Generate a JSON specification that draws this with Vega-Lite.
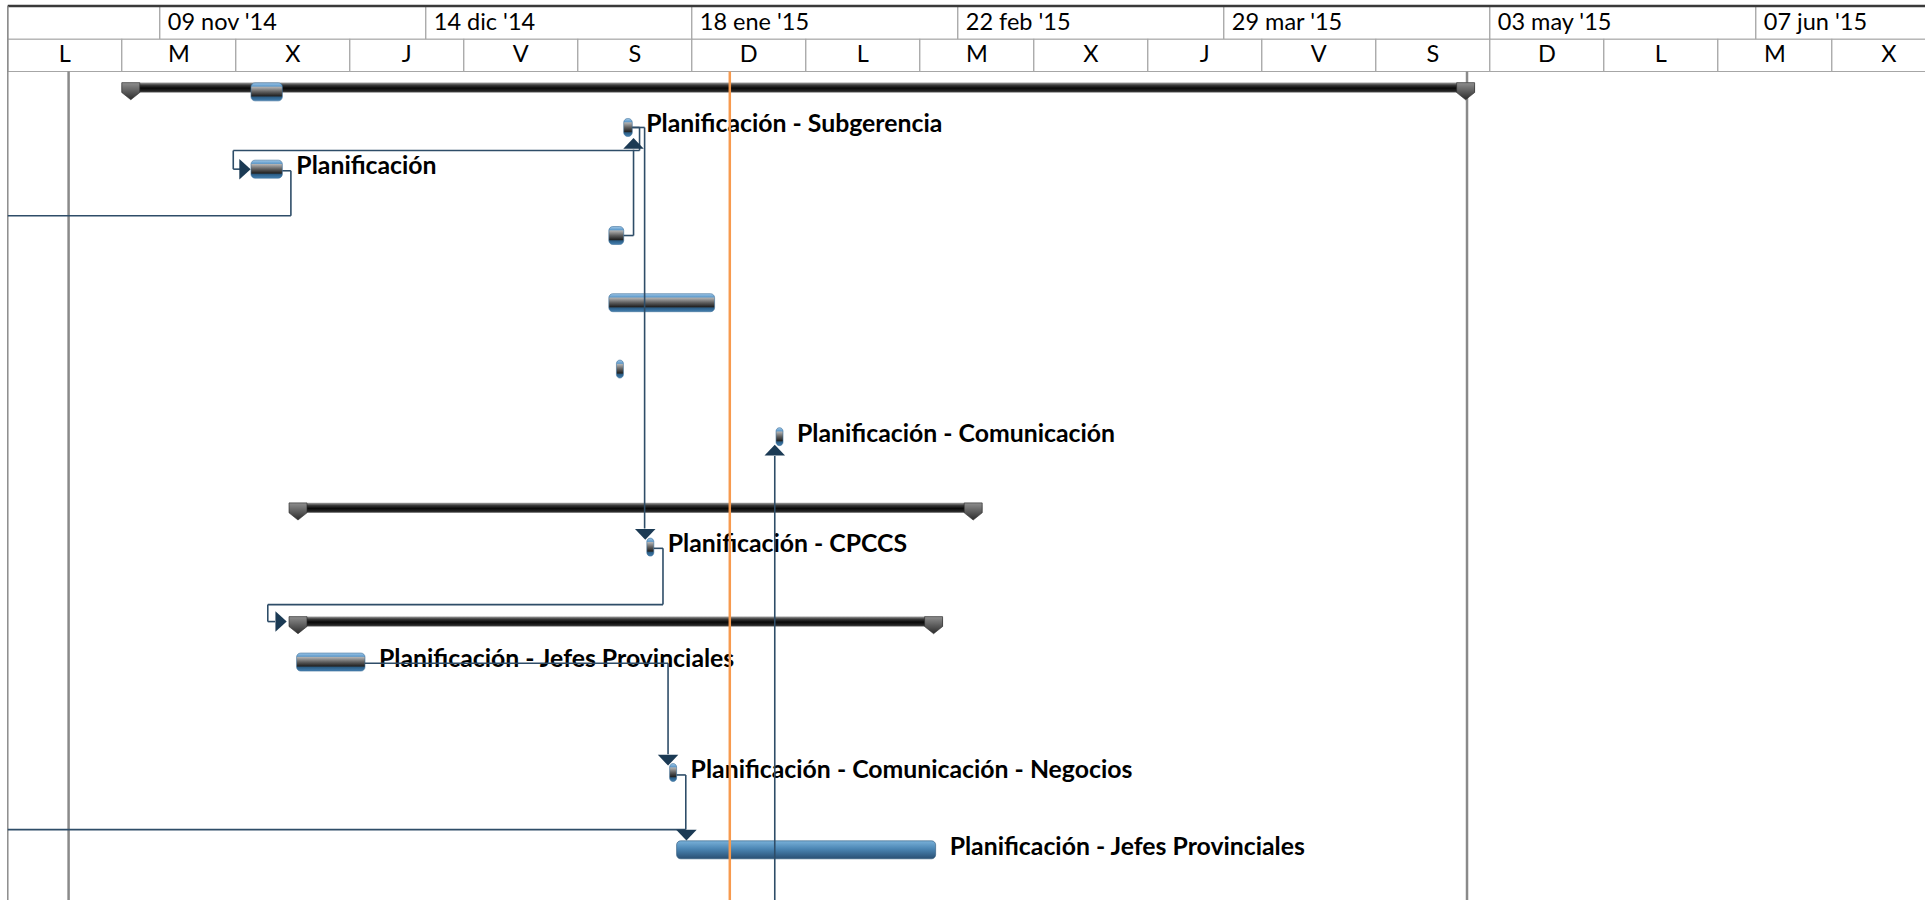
{
  "$schema": "https://vega.github.io/schema/vega-lite/v6.json",
  "width": 1927,
  "height": 902,
  "autosize": {"type": "fit", "contains": "padding"},
  "padding": 0,
  "background": "white",
  "config": {"view": {"stroke": null}, "text": {"font": "Lato"}},
  "datasets": {
    "nivel1": [
      {"inicio": "2014-10-20T00:00:00", "fin": "2014-11-09T00:00:00", "etiqueta": ""},
      {"inicio": "2014-11-09T00:00:00", "fin": "2014-12-14T00:00:00", "etiqueta": "09 nov '14"},
      {"inicio": "2014-12-14T00:00:00", "fin": "2015-01-18T00:00:00", "etiqueta": "14 dic '14"},
      {"inicio": "2015-01-18T00:00:00", "fin": "2015-02-22T00:00:00", "etiqueta": "18 ene '15"},
      {"inicio": "2015-02-22T00:00:00", "fin": "2015-03-29T00:00:00", "etiqueta": "22 feb '15"},
      {"inicio": "2015-03-29T00:00:00", "fin": "2015-05-03T00:00:00", "etiqueta": "29 mar '15"},
      {"inicio": "2015-05-03T00:00:00", "fin": "2015-06-07T00:00:00", "etiqueta": "03 may '15"},
      {"inicio": "2015-06-07T00:00:00", "fin": "2015-07-12T00:00:00", "etiqueta": "07 jun '15"}
    ],
    "nivel2": [
      {"inicio": "2014-10-20T00:00:00", "fin": "2014-11-04T00:00:00", "centro": "2014-10-27T12:00:00", "dia": "L"},
      {"inicio": "2014-11-04T00:00:00", "fin": "2014-11-19T00:00:00", "centro": "2014-11-11T12:00:00", "dia": "M"},
      {"inicio": "2014-11-19T00:00:00", "fin": "2014-12-04T00:00:00", "centro": "2014-11-26T12:00:00", "dia": "X"},
      {"inicio": "2014-12-04T00:00:00", "fin": "2014-12-19T00:00:00", "centro": "2014-12-11T12:00:00", "dia": "J"},
      {"inicio": "2014-12-19T00:00:00", "fin": "2015-01-03T00:00:00", "centro": "2014-12-26T12:00:00", "dia": "V"},
      {"inicio": "2015-01-03T00:00:00", "fin": "2015-01-18T00:00:00", "centro": "2015-01-10T12:00:00", "dia": "S"},
      {"inicio": "2015-01-18T00:00:00", "fin": "2015-02-02T00:00:00", "centro": "2015-01-25T12:00:00", "dia": "D"},
      {"inicio": "2015-02-02T00:00:00", "fin": "2015-02-17T00:00:00", "centro": "2015-02-09T12:00:00", "dia": "L"},
      {"inicio": "2015-02-17T00:00:00", "fin": "2015-03-04T00:00:00", "centro": "2015-02-24T12:00:00", "dia": "M"},
      {"inicio": "2015-03-04T00:00:00", "fin": "2015-03-19T00:00:00", "centro": "2015-03-11T12:00:00", "dia": "X"},
      {"inicio": "2015-03-19T00:00:00", "fin": "2015-04-03T00:00:00", "centro": "2015-03-26T12:00:00", "dia": "J"},
      {"inicio": "2015-04-03T00:00:00", "fin": "2015-04-18T00:00:00", "centro": "2015-04-10T12:00:00", "dia": "V"},
      {"inicio": "2015-04-18T00:00:00", "fin": "2015-05-03T00:00:00", "centro": "2015-04-25T12:00:00", "dia": "S"},
      {"inicio": "2015-05-03T00:00:00", "fin": "2015-05-18T00:00:00", "centro": "2015-05-10T12:00:00", "dia": "D"},
      {"inicio": "2015-05-18T00:00:00", "fin": "2015-06-02T00:00:00", "centro": "2015-05-25T12:00:00", "dia": "L"},
      {"inicio": "2015-06-02T00:00:00", "fin": "2015-06-17T00:00:00", "centro": "2015-06-09T12:00:00", "dia": "M"},
      {"inicio": "2015-06-17T00:00:00", "fin": "2015-07-02T00:00:00", "centro": "2015-06-24T12:00:00", "dia": "X"}
    ],
    "resumen": [
      {"fila": 2.165, "inicio": "2014-11-04T00:00:00", "fin": "2015-05-01T00:00:00"},
      {"fila": 12.55, "inicio": "2014-11-26T00:00:00", "fin": "2015-02-25T05:00:00"},
      {"fila": 15.36, "inicio": "2014-11-26T00:00:00", "fin": "2015-02-20T00:00:00"}
    ],
    "tareas": [
      {"fila": 2.27, "inicio": "2014-11-21T00:00:00", "fin": "2014-11-25T03:00:00", "nombre": "", "tipo": "normal"},
      {"fila": 3.15, "inicio": "2015-01-09T01:00:00", "fin": "2015-01-10T04:00:00", "nombre": "Planificación - Subgerencia", "tipo": "normal"},
      {"fila": 4.18, "inicio": "2014-11-21T00:00:00", "fin": "2014-11-25T03:00:00", "nombre": "Planificación", "tipo": "normal"},
      {"fila": 5.82, "inicio": "2015-01-07T02:00:00", "fin": "2015-01-09T01:00:00", "nombre": "", "tipo": "normal"},
      {"fila": 7.48, "inicio": "2015-01-07T02:00:00", "fin": "2015-01-21T00:00:00", "nombre": "", "tipo": "normal"},
      {"fila": 9.12, "inicio": "2015-01-08T02:00:00", "fin": "2015-01-09T00:00:00", "nombre": "", "tipo": "normal"},
      {"fila": 10.79, "inicio": "2015-01-29T02:00:00", "fin": "2015-01-30T00:00:00", "nombre": "Planificación - Comunicación", "tipo": "normal"},
      {"fila": 13.52, "inicio": "2015-01-12T02:00:00", "fin": "2015-01-13T00:00:00", "nombre": "Planificación - CPCCS", "tipo": "normal"},
      {"fila": 16.36, "inicio": "2014-11-27T00:00:00", "fin": "2014-12-06T00:00:00", "nombre": "Planificación - Jefes Provinciales", "tipo": "normal"},
      {"fila": 19.09, "inicio": "2015-01-15T02:00:00", "fin": "2015-01-16T00:00:00", "nombre": "Planificación - Comunicación - Negocios", "tipo": "normal"},
      {"fila": 21.0, "inicio": "2015-01-16T00:00:00", "fin": "2015-02-19T02:00:00", "nombre": "Planificación - Jefes Provinciales", "tipo": "azul"}
    ],
    "vinculos": [
      {"x1": "2014-11-25T03:00:00", "x2": "2014-11-26T06:00:00", "y1": 4.22, "y2": 4.22},
      {"x1": "2014-11-26T06:00:00", "x2": "2014-11-26T06:00:00", "y1": 4.22, "y2": 5.33},
      {"x1": "2014-11-26T06:00:00", "x2": "2014-10-20T00:00:00", "y1": 5.33, "y2": 5.33},
      {"x1": "2015-01-10T04:00:00", "x2": "2015-01-11T03:00:00", "y1": 3.15, "y2": 3.15},
      {"x1": "2015-01-11T03:00:00", "x2": "2015-01-11T03:00:00", "y1": 3.15, "y2": 3.72},
      {"x1": "2015-01-11T03:00:00", "x2": "2014-11-18T16:00:00", "y1": 3.72, "y2": 3.72},
      {"x1": "2014-11-18T16:00:00", "x2": "2014-11-18T16:00:00", "y1": 3.72, "y2": 4.18},
      {"x1": "2014-11-18T16:00:00", "x2": "2014-11-19T19:00:00", "y1": 4.18, "y2": 4.18},
      {"x1": "2015-01-09T01:00:00", "x2": "2015-01-10T08:00:00", "y1": 5.82, "y2": 5.82},
      {"x1": "2015-01-10T08:00:00", "x2": "2015-01-10T08:00:00", "y1": 5.82, "y2": 3.7},
      {"x1": "2015-01-10T04:00:00", "x2": "2015-01-11T19:00:00", "y1": 3.15, "y2": 3.15},
      {"x1": "2015-01-11T19:00:00", "x2": "2015-01-11T19:00:00", "y1": 3.15, "y2": 13.06},
      {"x1": "2015-01-13T00:00:00", "x2": "2015-01-14T05:00:00", "y1": 13.55, "y2": 13.55},
      {"x1": "2015-01-14T05:00:00", "x2": "2015-01-14T05:00:00", "y1": 13.55, "y2": 14.94},
      {"x1": "2015-01-14T05:00:00", "x2": "2014-11-23T05:00:00", "y1": 14.94, "y2": 14.94},
      {"x1": "2014-11-23T05:00:00", "x2": "2014-11-23T05:00:00", "y1": 14.94, "y2": 15.36},
      {"x1": "2014-11-23T05:00:00", "x2": "2014-11-24T04:00:00", "y1": 15.36, "y2": 15.36},
      {"x1": "2014-12-06T00:00:00", "x2": "2015-01-14T21:00:00", "y1": 16.39, "y2": 16.39},
      {"x1": "2015-01-14T21:00:00", "x2": "2015-01-14T21:00:00", "y1": 16.39, "y2": 18.64},
      {"x1": "2015-01-16T00:00:00", "x2": "2015-01-17T05:00:00", "y1": 19.15, "y2": 19.15},
      {"x1": "2015-01-17T05:00:00", "x2": "2015-01-17T05:00:00", "y1": 19.15, "y2": 20.5},
      {"x1": "2014-10-20T00:00:00", "x2": "2015-01-17T05:00:00", "y1": 20.5, "y2": 20.5},
      {"x1": "2015-01-28T22:00:00", "x2": "2015-01-28T22:00:00", "y1": 22.24, "y2": 11.27}
    ],
    "flechas": [
      {"fecha": "2014-11-20T05:00:00", "fila": 4.18, "dir": "derecha"},
      {"fecha": "2015-01-10T08:00:00", "fila": 3.55, "dir": "arriba"},
      {"fecha": "2015-01-11T21:00:00", "fila": 13.2, "dir": "abajo"},
      {"fecha": "2014-11-24T23:00:00", "fila": 15.36, "dir": "derecha"},
      {"fecha": "2015-01-14T21:00:00", "fila": 18.78, "dir": "abajo"},
      {"fecha": "2015-01-17T07:00:00", "fila": 20.63, "dir": "abajo"},
      {"fecha": "2015-01-28T22:00:00", "fila": 11.13, "dir": "arriba"}
    ],
    "lineas_grises": [
      {"fecha": "2014-10-28T00:00:00"},
      {"fecha": "2015-04-30T00:00:00"}
    ],
    "linea_hoy": [
      {"fecha": "2015-01-23T00:00:00"}
    ]
  },
  "layer": [
    {
      "data": {"name": "nivel1"},
      "mark": {"type": "rect", "fill": "white", "stroke": "#a6a6a6", "strokeWidth": 1.2, "clip": true},
      "encoding": {
        "x": {"field": "inicio", "type": "temporal", "scale": {"domain": [{"year": 2014, "month": 10, "date": 18, "hours": 23, "minutes": 24}, {"year": 2015, "month": 6, "date": 29, "hours": 6, "minutes": 15}]}, "axis": null},
        "x2": {"field": "fin"},
        "y": {"datum": 0.148, "type": "quantitative", "scale": {"domain": [0, 22.24], "reverse": true, "nice": false, "zero": false}, "axis": null},
        "y2": {"datum": 0.97}
      }
    },
    {
      "data": {"name": "nivel2"},
      "mark": {"type": "rect", "fill": "white", "stroke": "#a6a6a6", "strokeWidth": 1.2, "clip": true},
      "encoding": {
        "x": {"field": "inicio", "type": "temporal", "scale": {"domain": [{"year": 2014, "month": 10, "date": 18, "hours": 23, "minutes": 24}, {"year": 2015, "month": 6, "date": 29, "hours": 6, "minutes": 15}]}, "axis": null},
        "x2": {"field": "fin"},
        "y": {"datum": 0.97, "type": "quantitative", "scale": {"domain": [0, 22.24], "reverse": true, "nice": false, "zero": false}, "axis": null},
        "y2": {"datum": 1.767}
      }
    },
    {
      "data": {"name": "nivel1"},
      "mark": {"type": "text", "align": "left", "baseline": "middle", "dx": 8, "fontSize": 23.5, "color": "#000000", "clip": true},
      "encoding": {
        "x": {"field": "inicio", "type": "temporal", "scale": {"domain": [{"year": 2014, "month": 10, "date": 18, "hours": 23, "minutes": 24}, {"year": 2015, "month": 6, "date": 29, "hours": 6, "minutes": 15}]}, "axis": null},
        "y": {"datum": 0.57, "type": "quantitative", "scale": {"domain": [0, 22.24], "reverse": true, "nice": false, "zero": false}, "axis": null},
        "text": {"field": "etiqueta"}
      }
    },
    {
      "data": {"name": "nivel2"},
      "mark": {"type": "text", "align": "center", "baseline": "middle", "fontSize": 23.5, "color": "#000000", "clip": true},
      "encoding": {
        "x": {"field": "centro", "type": "temporal", "scale": {"domain": [{"year": 2014, "month": 10, "date": 18, "hours": 23, "minutes": 24}, {"year": 2015, "month": 6, "date": 29, "hours": 6, "minutes": 15}]}, "axis": null},
        "y": {"datum": 1.37, "type": "quantitative", "scale": {"domain": [0, 22.24], "reverse": true, "nice": false, "zero": false}, "axis": null},
        "text": {"field": "dia"}
      }
    },
    {
      "data": {"values": [{"a": 1}]},
      "mark": {"type": "rule", "color": "#3a3a3a", "strokeWidth": 2.5},
      "encoding": {
        "x": {"datum": {"year": 2014, "month": 10, "date": 20}, "type": "temporal", "scale": {"domain": [{"year": 2014, "month": 10, "date": 18, "hours": 23, "minutes": 24}, {"year": 2015, "month": 6, "date": 29, "hours": 6, "minutes": 15}]}, "axis": null},
        "x2": {"datum": {"year": 2015, "month": 6, "date": 29, "hours": 6, "minutes": 15}},
        "y": {"datum": 0.148, "type": "quantitative", "scale": {"domain": [0, 22.24], "reverse": true, "nice": false, "zero": false}, "axis": null}
      }
    },
    {
      "data": {"values": [{"a": 1}]},
      "mark": {"type": "rule", "color": "#8c8c8c", "strokeWidth": 1.5},
      "encoding": {
        "x": {"datum": {"year": 2014, "month": 10, "date": 20}, "type": "temporal", "scale": {"domain": [{"year": 2014, "month": 10, "date": 18, "hours": 23, "minutes": 24}, {"year": 2015, "month": 6, "date": 29, "hours": 6, "minutes": 15}]}, "axis": null},
        "y": {"datum": 0.148, "type": "quantitative", "scale": {"domain": [0, 22.24], "reverse": true, "nice": false, "zero": false}, "axis": null},
        "y2": {"datum": 22.24}
      }
    },
    {
      "data": {"name": "lineas_grises"},
      "mark": {"type": "rule", "color": "#8a8a8a", "strokeWidth": 2.5},
      "encoding": {
        "x": {"field": "fecha", "type": "temporal", "scale": {"domain": [{"year": 2014, "month": 10, "date": 18, "hours": 23, "minutes": 24}, {"year": 2015, "month": 6, "date": 29, "hours": 6, "minutes": 15}]}, "axis": null},
        "y": {"datum": 1.767, "type": "quantitative", "scale": {"domain": [0, 22.24], "reverse": true, "nice": false, "zero": false}, "axis": null},
        "y2": {"datum": 22.24}
      }
    },
    {
      "data": {"name": "resumen"},
      "mark": {"type": "rect", "yOffset": -5, "y2Offset": 5, "color": {"gradient": "linear", "x1": 0, "y1": 0, "x2": 0, "y2": 1, "stops": [{"offset": 0, "color": "#a0a0a0"}, {"offset": 0.25, "color": "#3a3a3a"}, {"offset": 0.55, "color": "#080808"}, {"offset": 0.85, "color": "#262626"}, {"offset": 1, "color": "#5a5a5a"}]}},
      "encoding": {
        "x": {"field": "inicio", "type": "temporal", "scale": {"domain": [{"year": 2014, "month": 10, "date": 18, "hours": 23, "minutes": 24}, {"year": 2015, "month": 6, "date": 29, "hours": 6, "minutes": 15}]}, "axis": null},
        "x2": {"field": "fin"},
        "y": {"field": "fila", "type": "quantitative", "scale": {"domain": [0, 22.24], "reverse": true, "nice": false, "zero": false}, "axis": null},
        "y2": {"field": "fila"}
      }
    },
    {
      "data": {"name": "resumen"},
      "mark": {"type": "point", "filled": true, "opacity": 1, "size": 324, "xOffset": 9, "shape": "M-1,-0.55L1,-0.55L1,0.55L0,1.35L-1,0.55Z", "stroke": "#2a2a2a", "strokeWidth": 0.6, "fill": {"gradient": "linear", "x1": 0, "y1": 0, "x2": 0, "y2": 1, "stops": [{"offset": 0, "color": "#8e8e8e"}, {"offset": 1, "color": "#2c2c2c"}]}},
      "encoding": {
        "x": {"field": "inicio", "type": "temporal", "scale": {"domain": [{"year": 2014, "month": 10, "date": 18, "hours": 23, "minutes": 24}, {"year": 2015, "month": 6, "date": 29, "hours": 6, "minutes": 15}]}, "axis": null},
        "y": {"field": "fila", "type": "quantitative", "scale": {"domain": [0, 22.24], "reverse": true, "nice": false, "zero": false}, "axis": null}
      }
    },
    {
      "data": {"name": "resumen"},
      "mark": {"type": "point", "filled": true, "opacity": 1, "size": 324, "xOffset": -9, "shape": "M-1,-0.55L1,-0.55L1,0.55L0,1.35L-1,0.55Z", "stroke": "#2a2a2a", "strokeWidth": 0.6, "fill": {"gradient": "linear", "x1": 0, "y1": 0, "x2": 0, "y2": 1, "stops": [{"offset": 0, "color": "#8e8e8e"}, {"offset": 1, "color": "#2c2c2c"}]}},
      "encoding": {
        "x": {"field": "fin", "type": "temporal", "scale": {"domain": [{"year": 2014, "month": 10, "date": 18, "hours": 23, "minutes": 24}, {"year": 2015, "month": 6, "date": 29, "hours": 6, "minutes": 15}]}, "axis": null},
        "y": {"field": "fila", "type": "quantitative", "scale": {"domain": [0, 22.24], "reverse": true, "nice": false, "zero": false}, "axis": null}
      }
    },
    {
      "data": {"name": "tareas"},
      "transform": [{"filter": "datum.tipo == 'normal'"}],
      "mark": {"type": "rect", "yOffset": -9, "y2Offset": 9, "cornerRadius": 4, "stroke": "#3d6f98", "strokeWidth": 0.6, "color": {"gradient": "linear", "x1": 0, "y1": 0, "x2": 0, "y2": 1, "stops": [{"offset": 0, "color": "#a3c9e8"}, {"offset": 0.18, "color": "#5f9bcc"}, {"offset": 0.24, "color": "#b0b0b0"}, {"offset": 0.5, "color": "#5e5e5e"}, {"offset": 0.72, "color": "#232323"}, {"offset": 0.8, "color": "#2b5e87"}, {"offset": 1, "color": "#4580b0"}]}},
      "encoding": {
        "x": {"field": "inicio", "type": "temporal", "scale": {"domain": [{"year": 2014, "month": 10, "date": 18, "hours": 23, "minutes": 24}, {"year": 2015, "month": 6, "date": 29, "hours": 6, "minutes": 15}]}, "axis": null},
        "x2": {"field": "fin"},
        "y": {"field": "fila", "type": "quantitative", "scale": {"domain": [0, 22.24], "reverse": true, "nice": false, "zero": false}, "axis": null},
        "y2": {"field": "fila"}
      }
    },
    {
      "data": {"name": "tareas"},
      "transform": [{"filter": "datum.tipo == 'azul'"}],
      "mark": {"type": "rect", "yOffset": -9, "y2Offset": 9, "cornerRadius": 4, "stroke": "#2c5678", "strokeWidth": 0.6, "color": {"gradient": "linear", "x1": 0, "y1": 0, "x2": 0, "y2": 1, "stops": [{"offset": 0, "color": "#79b1d9"}, {"offset": 0.45, "color": "#4b85b3"}, {"offset": 1, "color": "#294f72"}]}},
      "encoding": {
        "x": {"field": "inicio", "type": "temporal", "scale": {"domain": [{"year": 2014, "month": 10, "date": 18, "hours": 23, "minutes": 24}, {"year": 2015, "month": 6, "date": 29, "hours": 6, "minutes": 15}]}, "axis": null},
        "x2": {"field": "fin"},
        "y": {"field": "fila", "type": "quantitative", "scale": {"domain": [0, 22.24], "reverse": true, "nice": false, "zero": false}, "axis": null},
        "y2": {"field": "fila"}
      }
    },
    {
      "data": {"name": "tareas"},
      "transform": [{"filter": "datum.nombre != ''"}],
      "mark": {"type": "text", "align": "left", "baseline": "middle", "dx": 14, "dy": -2, "fontSize": 24.8, "fontWeight": "bold", "color": "#000000"},
      "encoding": {
        "x": {"field": "fin", "type": "temporal", "scale": {"domain": [{"year": 2014, "month": 10, "date": 18, "hours": 23, "minutes": 24}, {"year": 2015, "month": 6, "date": 29, "hours": 6, "minutes": 15}]}, "axis": null},
        "y": {"field": "fila", "type": "quantitative", "scale": {"domain": [0, 22.24], "reverse": true, "nice": false, "zero": false}, "axis": null},
        "text": {"field": "nombre"}
      }
    },
    {
      "data": {"name": "vinculos"},
      "mark": {"type": "rule", "color": "#2e4d68", "strokeWidth": 1.6},
      "encoding": {
        "x": {"field": "x1", "type": "temporal", "scale": {"domain": [{"year": 2014, "month": 10, "date": 18, "hours": 23, "minutes": 24}, {"year": 2015, "month": 6, "date": 29, "hours": 6, "minutes": 15}]}, "axis": null},
        "x2": {"field": "x2"},
        "y": {"field": "y1", "type": "quantitative", "scale": {"domain": [0, 22.24], "reverse": true, "nice": false, "zero": false}, "axis": null},
        "y2": {"field": "y2"}
      }
    },
    {
      "data": {"name": "flechas"},
      "mark": {"type": "point", "filled": true, "opacity": 1, "size": 420, "color": "#1b3a54"},
      "encoding": {
        "x": {"field": "fecha", "type": "temporal", "scale": {"domain": [{"year": 2014, "month": 10, "date": 18, "hours": 23, "minutes": 24}, {"year": 2015, "month": 6, "date": 29, "hours": 6, "minutes": 15}]}, "axis": null},
        "y": {"field": "fila", "type": "quantitative", "scale": {"domain": [0, 22.24], "reverse": true, "nice": false, "zero": false}, "axis": null},
        "shape": {"field": "dir", "type": "nominal", "scale": {"domain": ["derecha", "arriba", "abajo"], "range": ["M-0.55,-1L0.55,0L-0.55,1Z", "M-1,0.5L1,0.5L0,-0.55Z", "M-1,-0.5L1,-0.5L0,0.55Z"]}, "legend": null}
      }
    },
    {
      "data": {"name": "linea_hoy"},
      "mark": {"type": "rule", "color": "#f79a4e", "strokeWidth": 2.5},
      "encoding": {
        "x": {"field": "fecha", "type": "temporal", "scale": {"domain": [{"year": 2014, "month": 10, "date": 18, "hours": 23, "minutes": 24}, {"year": 2015, "month": 6, "date": 29, "hours": 6, "minutes": 15}]}, "axis": null},
        "y": {"datum": 1.767, "type": "quantitative", "scale": {"domain": [0, 22.24], "reverse": true, "nice": false, "zero": false}, "axis": null},
        "y2": {"datum": 22.24}
      }
    }
  ]
}
